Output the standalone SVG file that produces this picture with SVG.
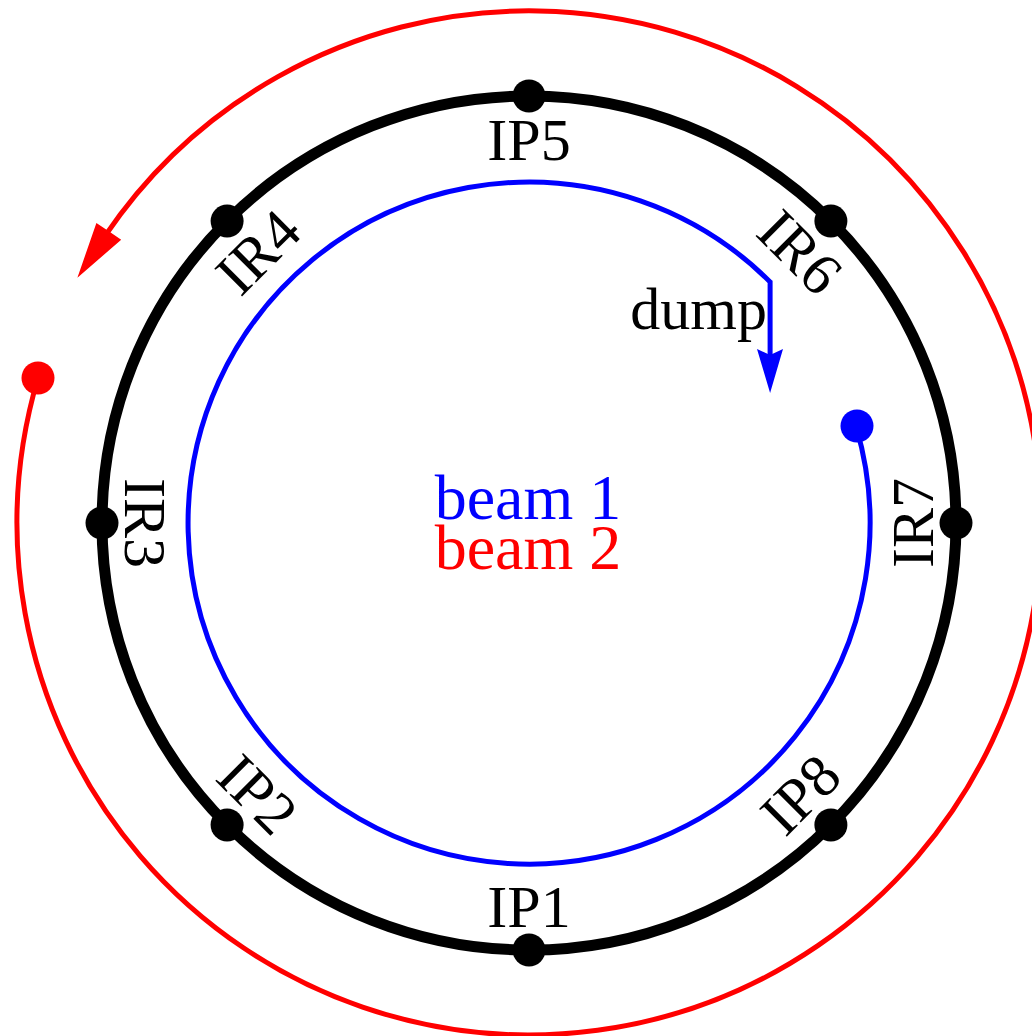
<svg xmlns="http://www.w3.org/2000/svg" width="1032" height="1036" viewBox="0 0 1032 1036">
<style>
.lbl{font-family:"Liberation Serif","Times New Roman",serif;font-size:60px;fill:#000;text-anchor:middle}
.beam{font-family:"Liberation Serif","Times New Roman",serif;font-size:64px;text-anchor:middle}
.dot{fill:#000}
</style>
<rect width="1032" height="1036" fill="#fff"/>
<g id="connectors">
<path id="beam2" d="M38.1,377.6 A512,512 0 1 0 104.5,236.7" fill="none" stroke="#ff0000" stroke-width="5"/>
<polygon points="77.4,277.8 96.4,222.9 108.8,231.3 121.2,239.7" fill="#ff0000"/>
<circle cx="38" cy="378" r="16.5" fill="#ff0000"/>
<path id="beam1" d="M856,426.2 A341,341 0 1 1 770.1,281.9 L770.1,356" fill="none" stroke="#0000ff" stroke-width="5"/>
<polygon points="770.1,393 757,349 770.1,355 783,349" fill="#0000ff"/>
<circle cx="857" cy="426" r="16.5" fill="#0000ff"/>
</g>
<g id="ring">
<circle cx="529" cy="523" r="427" fill="none" stroke="#000" stroke-width="11"/>
</g>
<g id="IP5"><circle class="dot" cx="529" cy="96" r="16.5"/><text class="lbl" x="529" y="160">IP5</text></g>
<g id="IR6"><circle class="dot" cx="830.9" cy="221.1" r="16.5"/><text class="lbl" transform="translate(785.7,266.3) rotate(45)">IR6</text></g>
<g id="IR7"><circle class="dot" cx="956" cy="523" r="16.5"/><text class="lbl" transform="translate(933,523) rotate(-90)">IR7</text></g>
<g id="IP8"><circle class="dot" cx="830.9" cy="824.9" r="16.5"/><text class="lbl" transform="translate(814.7,808.7) rotate(-45)">IP8</text></g>
<g id="IP1"><circle class="dot" cx="529" cy="950" r="16.5"/><text class="lbl" x="529" y="927">IP1</text></g>
<g id="IP2"><circle class="dot" cx="227.1" cy="824.9" r="16.5"/><text class="lbl" transform="translate(243.3,808.7) rotate(45)">IP2</text></g>
<g id="IR3"><circle class="dot" cx="102" cy="523" r="16.5"/><text class="lbl" transform="translate(125,523) rotate(90)">IR3</text></g>
<g id="IR4"><circle class="dot" cx="227.1" cy="221.1" r="16.5"/><text class="lbl" transform="translate(272.3,266.3) rotate(-45)">IR4</text></g>
<g id="dump"><text class="lbl" x="767" y="329" style="text-anchor:end">dump</text></g>
<g id="legend">
<text class="beam" x="528" y="519" fill="#0000ff">beam 1</text>
<text class="beam" x="528" y="569" fill="#ff0000">beam 2</text>
</g>
</svg>
